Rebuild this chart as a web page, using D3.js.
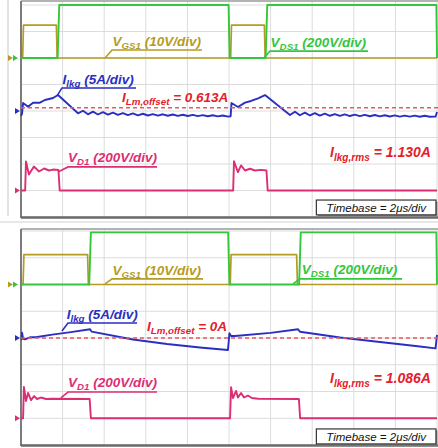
<!DOCTYPE html>
<html>
<head>
<meta charset="utf-8">
<script src="https://cdn.jsdelivr.net/npm/d3@7"></script>
<style>
  body { margin: 0; background: #fff; }
  svg { display: block; }
</style>
</head>
<body>
<div id="chart"></div>
<script>
// time axis: 2 μs/div, 10 divs
const timeDomain = [0, 20]
const timeTicks = d3.range(0, 21, 2)
const divTicks = d3.range(0, 9)

// ---- upper capture (I_Lm,offset = 0.613A) ----
const vgsA = [[0, 0], [0.08, 0], [0.12, 12.4], [1.7, 12.4], [1.74, 0], [10.08, 0], [10.12, 12.4], [11.7, 12.4], [11.74, 0], [20, 0]]
const vdsA = [[0, 0], [1.76, 0], [1.84, 400], [9.98, 400], [10.03, 0], [11.76, 0], [11.84, 400], [19.97, 400], [20, 0]]
const ilkgA = [
  [0, -0.94], [0.05, -0.5], [0.1, 1.51], [0.34, 0.81], [0.58, 1.57], [0.91, 1.57], [1.15, 2.08], [1.54, 2.45], [1.78, 3.02],
  [2.74, -0.43], [2.98, 0.05], [3.22, -0.62], [3.46, -0.12], [3.7, -0.66], [3.94, -0.22], [4.18, -0.7], [4.42, -0.3],
  [4.66, -0.74], [4.9, -0.38], [5.14, -0.78], [5.38, -0.45], [5.62, -0.82], [5.86, -0.52], [6.1, -0.85], [6.34, -0.58],
  [6.58, -0.88], [6.82, -0.62], [7.06, -0.9], [7.3, -0.66], [7.54, -0.93], [7.78, -0.7], [8.02, -0.95], [8.26, -0.74],
  [8.5, -0.97], [8.74, -0.78], [8.98, -0.99], [9.22, -0.8], [9.46, -1.01], [9.7, -0.84], [9.96, -1.07],
  [10.08, -1.0], [10.12, 1.51], [10.43, 0.75], [10.77, 1.57], [11.06, 1.89], [11.4, 2.4], [11.73, 3.0],
  [12.93, -0.75], [13.17, -0.13], [13.41, -0.8], [13.65, -0.3], [13.89, -0.84], [14.13, -0.4], [14.37, -0.87],
  [14.61, -0.5], [14.85, -0.9], [15.09, -0.58], [15.33, -0.92], [15.57, -0.64], [15.81, -0.95], [16.05, -0.68],
  [16.29, -0.97], [16.53, -0.72], [16.77, -0.99], [17.01, -0.76], [17.25, -1.01], [17.49, -0.8], [17.73, -1.03],
  [17.97, -0.83], [18.21, -1.05], [18.45, -0.86], [18.69, -1.07], [18.93, -0.88], [19.17, -1.08], [19.41, -0.9],
  [19.65, -1.09], [19.93, -1.07], [20, -0.2]
]
const vd1A = [
  [0, 0], [0.2, 0], [0.24, 219], [0.38, 121], [0.62, 181], [0.87, 143], [1.11, 166], [1.35, 151], [1.54, 158],
  [1.8, 155], [1.86, 0], [10.2, 0], [10.24, 221], [10.43, 138], [10.58, 189], [10.77, 151], [11.01, 164],
  [11.25, 151], [11.54, 156], [11.8, 151], [11.86, 0], [20, 0]
]
const offsetA = 0.613
const offsetTextA = '0.613A'
const rmsTextA = '1.130A'

// ---- lower capture (I_Lm,offset = 0A) ----
const vgsB = [[0, 0], [0.1, 0], [0.14, 11.2], [3.2, 11.2], [3.24, 0], [10.06, 0], [10.1, 11.2], [13.25, 11.2], [13.29, 0], [20, 0]]
const vdsB = [[0, 0], [3.28, 0], [3.36, 390], [9.96, 390], [10.02, 0], [13.37, 0], [13.45, 390], [19.97, 390], [20, 0]]
const ilkgB = [
  [0, -0.24], [0.03, -0.24], [0.05, 1.0], [0.1, -0.1], [0.19, -0.24], [0.43, 0.13], [0.7, 0.15], [1.5, 0.62],
  [2.4, 1.1], [3.32, 1.63], [3.4, 1.18], [5.38, -0.28], [7.02, -1.12], [8.6, -1.78], [9.95, -2.24],
  [10.02, 0.88], [10.1, 0.37], [10.29, 0.37], [12.0, 0.95], [13.32, 1.63], [13.41, 1.18], [15.34, 0.09],
  [17.26, -0.75], [19.18, -1.59], [19.93, -1.93], [20, 0.6]
]
const vd1B = [
  [0, 0], [0.1, 0], [0.14, 234], [0.24, 129], [0.34, 189], [0.48, 136], [0.63, 166], [0.77, 144], [0.96, 155],
  [1.2, 144], [1.5, 146], [3.3, 144], [3.36, 0], [10.05, 0], [10.1, 232], [10.19, 151], [10.34, 204],
  [10.43, 155], [10.58, 189], [10.72, 155], [10.91, 170], [11.1, 151], [11.4, 146], [13.36, 144], [13.42, 0], [20, 0]
]
const offsetB = 0
const offsetTextB = '0A'
const rmsTextB = '1.086A'

// label texts: [main, subscript, tail]
const txtVgs = ['V', 'GS1', ' (10V/div)']
const txtVds = ['V', 'DS1', ' (200V/div)']
const txtIlkg = ['I', 'lkg', ' (5A/div)']
const txtVd1 = ['V', 'D1', ' (200V/div)']
const txtOffset = ['I', 'Lm,offset', ' = ']
const txtRms = ['I', 'lkg,rms', ' = ']
const timebase = 'Timebase = 2μs/div'

const col = {
  vgs: '#b49c24',
  vds: '#34c63c',
  ilkg: '#2a2fc2',
  vd1: '#dc2e74',
  red: '#e4202a',
  dash: '#e65a5c',
  grid: '#dcdcdc',
  frame: '#7c7c7c'
}

// channel scale (units/div) and ground position (divs from top)
const channels = {
  vgs: { perDiv: 10, ground: 2 },
  vds: { perDiv: 200, ground: 2 },
  ilkg: { perDiv: 5, ground: 4 },
  vd1: { perDiv: 200, ground: 7 }
}

const panels = [
  {
    top: 5, bottom: 217, frameTop: 1,
    vgs: vgsA, vds: vdsA, ilkg: ilkgA, vd1: vd1A, offset: offsetA, offsetText: offsetTextA, rmsText: rmsTextA,
    notes: {
      vgs: { lead: [[4.04, 2.0], [4.38, 1.7], [8.7, 1.7]], at: [4.4, 1.54] },
      vds: { lead: [[11.68, 2.0], [11.97, 1.74], [16.68, 1.74]], at: [12.0, 1.58] },
      ilkg: { lead: [[1.73, 3.43], [1.97, 3.13], [5.53, 3.13]], at: [2.0, 2.98] },
      vd1: { lead: [[1.78, 6.3], [2.26, 6.11], [6.54, 6.11]], at: [2.26, 5.92] },
      offset: [4.86, 3.66],
      rms: [14.86, 5.74],
      box: [14.2, 19.95, 7.36, 7.92]
    }
  },
  {
    top: 231, bottom: 445, frameTop: 229,
    vgs: vgsB, vds: vdsB, ilkg: ilkgB, vd1: vd1B, offset: offsetB, offsetText: offsetTextB, rmsText: rmsTextB,
    notes: {
      vgs: { lead: [[4.04, 1.98], [4.38, 1.79], [8.75, 1.79]], at: [4.4, 1.64] },
      vds: { lead: [[13.08, 1.98], [13.41, 1.79], [18.32, 1.79]], at: [13.5, 1.61] },
      ilkg: { lead: [[1.97, 3.74], [2.26, 3.44], [5.58, 3.44]], at: [2.2, 3.29] },
      vd1: { lead: [[1.92, 6.24], [2.26, 6.02], [6.54, 6.02]], at: [2.26, 5.83] },
      offset: [6.06, 3.74],
      rms: [14.86, 5.7],
      box: [14.2, 19.95, 7.4, 7.96]
    }
  }
]

const W = 438
const H = 448
const font = '"Liberation Sans", Arial, sans-serif'

const svg = d3.select('#chart').append('svg')
  .attr('width', W)
  .attr('height', H)

const x = d3.scaleLinear().domain(timeDomain).range([21, 437])

// faint outer frame lines
svg.append('line')
  .attr('x1', 8).attr('x2', 8).attr('y1', 0).attr('y2', 216)
  .attr('stroke', '#c8c8c8').attr('stroke-width', 1)
svg.append('line')
  .attr('x1', 0).attr('x2', W).attr('y1', 222).attr('y2', 222)
  .attr('stroke', '#d0d0d0').attr('stroke-width', 1)

function label(g, px, py, parts, color, size, tail) {
  const t = g.append('text')
    .attr('x', px).attr('y', py)
    .attr('fill', color)
    .attr('font-family', font)
    .attr('font-size', size)
    .attr('font-weight', 'bold')
    .attr('font-style', 'italic')
  const [main, sub, rest] = parts
  const shift = size * 0.25
  t.append('tspan').text(main)
  t.append('tspan').attr('font-size', size * 0.72).attr('dy', shift).text(sub)
  t.append('tspan').attr('dy', -shift).text(rest + (tail || ''))
  return t
}

panels.forEach(p => {
  const g = svg.append('g')
  const ydiv = d3.scaleLinear().domain([0, 8]).range([p.top, p.bottom])

  // grid
  g.selectAll('line.vg').data(timeTicks).join('line')
    .attr('class', 'vg')
    .attr('x1', d => x(d)).attr('x2', d => x(d))
    .attr('y1', p.frameTop).attr('y2', p.bottom)
    .attr('stroke', col.grid).attr('stroke-width', 1)
  g.selectAll('line.hg').data(divTicks).join('line')
    .attr('class', 'hg')
    .attr('x1', x(0)).attr('x2', W)
    .attr('y1', d => ydiv(d)).attr('y2', d => ydiv(d))
    .attr('stroke', col.grid).attr('stroke-width', 1)

  // frame
  g.append('line')
    .attr('x1', x(0)).attr('x2', W).attr('y1', p.frameTop).attr('y2', p.frameTop)
    .attr('stroke', '#9a9a9a').attr('stroke-width', 1.5)
  g.append('line')
    .attr('x1', x(0)).attr('x2', x(0)).attr('y1', p.frameTop).attr('y2', p.bottom + 1)
    .attr('stroke', col.frame).attr('stroke-width', 2)
  g.append('line')
    .attr('x1', x(0)).attr('x2', W).attr('y1', p.bottom + 0.5).attr('y2', p.bottom + 0.5)
    .attr('stroke', '#6a6a6a').attr('stroke-width', 2.5)

  const chY = key => {
    const ch = channels[key]
    return d3.scaleLinear()
      .domain([ch.ground * ch.perDiv, (ch.ground - 8) * ch.perDiv])
      .range([p.top, p.bottom])
  }

  const trace = (key, width) => {
    const y = chY(key)
    const line = d3.line().x(d => x(d[0])).y(d => y(d[1]))
    g.append('path')
      .datum(p[key])
      .attr('d', line)
      .attr('fill', 'none')
      .attr('stroke', col[key])
      .attr('stroke-width', width)
      .attr('stroke-linejoin', 'round')
  }

  trace('vgs', 1.7)
  trace('vds', 1.9)
  trace('vd1', 1.9)
  trace('ilkg', 1.9)

  // magnetizing offset dashed line
  const yI = chY('ilkg')
  g.append('line')
    .attr('x1', x(0)).attr('x2', W)
    .attr('y1', yI(p.offset)).attr('y2', yI(p.offset))
    .attr('stroke', col.dash)
    .attr('stroke-width', 1.5)
    .attr('stroke-dasharray', '4,3')

  // ground markers
  const marker = (px, key) => {
    const y = chY(key)(0)
    g.append('path')
      .attr('d', `M${px},${y - 3}L${px + 5},${y}L${px},${y + 3}Z`)
      .attr('fill', col[key])
  }
  marker(8, 'vgs')
  marker(13, 'vds')
  marker(15, 'ilkg')
  marker(15, 'vd1')

  // annotations with leader lines
  const leadLine = d3.line().x(d => x(d[0])).y(d => ydiv(d[1]))
  const note = (key, parts) => {
    const n = p.notes[key]
    g.append('path')
      .attr('d', leadLine(n.lead))
      .attr('fill', 'none')
      .attr('stroke', col[key])
      .attr('stroke-width', 1.6)
    label(g, x(n.at[0]), ydiv(n.at[1]), parts, col[key], 13.5)
  }
  note('vgs', txtVgs)
  note('vds', txtVds)
  note('ilkg', txtIlkg)
  note('vd1', txtVd1)

  label(g, x(p.notes.offset[0]), ydiv(p.notes.offset[1]), txtOffset, col.red, 13.5, p.offsetText)
  label(g, x(p.notes.rms[0]), ydiv(p.notes.rms[1]), txtRms, col.red, 14, p.rmsText)

  // timebase box
  const [b0, b1, d0, d1] = p.notes.box
  g.append('rect')
    .attr('x', x(b0) + 1.5).attr('y', ydiv(d0) + 1.5)
    .attr('width', x(b1) - x(b0)).attr('height', ydiv(d1) - ydiv(d0))
    .attr('fill', '#8a8a8a')
  g.append('rect')
    .attr('x', x(b0)).attr('y', ydiv(d0))
    .attr('width', x(b1) - x(b0)).attr('height', ydiv(d1) - ydiv(d0))
    .attr('fill', '#fff')
    .attr('stroke', '#333').attr('stroke-width', 1.2)
  g.append('text')
    .attr('x', (x(b0) + x(b1)) / 2)
    .attr('y', (ydiv(d0) + ydiv(d1)) / 2)
    .attr('dy', '0.36em')
    .attr('text-anchor', 'middle')
    .attr('font-family', font)
    .attr('font-size', 11.5)
    .attr('font-style', 'italic')
    .attr('fill', '#111')
    .text(timebase)
})
</script>
</body>
</html>
